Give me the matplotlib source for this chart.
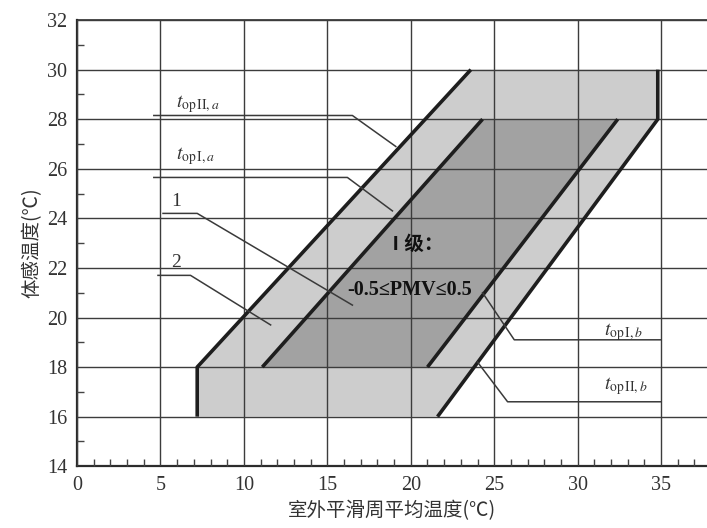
import matplotlib.pyplot as plt
from matplotlib.patches import Polygon
from matplotlib.ticker import MultipleLocator

plt.rcParams['mathtext.fontset'] = 'stix'

# comfort zone outlines (outdoor running mean temp, operative temp)
zone2_x = [7.2, 7.2, 23.6, 34.8, 34.8, 21.6]
zone2_y = [16, 18, 30, 30, 28, 16]
zone1_x = [11.1, 24.3, 32.4, 21.0]
zone1_y = [18, 28, 28, 18]

# leader lines for the labels
lead_op2a = ([4.6, 16.5, 19.1], [28.15, 28.15, 26.9])
lead_op1a = ([4.6, 16.2, 18.9], [25.65, 25.65, 24.3])
lead_1 = ([5.15, 7.2, 16.5], [24.2, 24.2, 20.5])
lead_2 = ([4.85, 6.8, 11.6], [21.7, 21.7, 19.7])
lead_op1b = ([24.3, 26.2, 35.0], [21.0, 19.1, 19.1])
lead_op2b = ([24.0, 25.8, 35.0], [18.2, 16.6, 16.6])

fig = plt.figure(figsize=(7.07, 5.28), dpi=100)
ax = fig.add_axes([0.109, 0.117, 0.891, 0.845])

ax.add_patch(Polygon(list(zip(zone2_x, zone2_y)), closed=True,
                     facecolor='#cdcdcd', edgecolor='none', zorder=1))
ax.add_patch(Polygon(list(zip(zone1_x, zone1_y)), closed=True,
                     facecolor='#a2a2a2', edgecolor='none', zorder=1.1))

thick = dict(color='#1e1e1e', lw=2.6, zorder=3, solid_capstyle='butt')
# outer boundary: left step and upper limit, right step and lower limit
ax.plot(zone2_x[0:3], zone2_y[0:3], **thick)
ax.plot(zone2_x[3:6], zone2_y[3:6], **thick)
# inner boundary diagonals
ax.plot(zone1_x[0:2], zone1_y[0:2], **thick)
ax.plot(zone1_x[2:4], zone1_y[2:4], **thick)

thin = dict(color='#3a3a3a', lw=1.1, zorder=3)
for xs, ys in [lead_op2a, lead_op1a, lead_1, lead_2, lead_op1b, lead_op2b]:
    ax.plot(xs, ys, **thin)

ax.set_xlim(0, 37.75)
ax.set_ylim(14, 32)
ax.xaxis.set_major_locator(MultipleLocator(5))
ax.xaxis.set_minor_locator(MultipleLocator(1))
ax.yaxis.set_major_locator(MultipleLocator(2))
ax.yaxis.set_minor_locator(MultipleLocator(1))
ax.grid(True, which='major', color='#3c3c3c', lw=1.0)
ax.set_axisbelow(False)
ax.tick_params(which='major', length=0, pad=7, labelsize=14.5)
ax.tick_params(which='minor', direction='in', length=5, width=1, color='#444444')
for lab in ax.get_xticklabels() + ax.get_yticklabels():
    lab.set_family('Liberation Serif')
    lab.set_color('#333333')

ax.spines['right'].set_visible(False)
for s in ['left', 'bottom']:
    ax.spines[s].set_linewidth(1.6)
    ax.spines[s].set_color('#2a2a2a')
ax.spines['top'].set_linewidth(1.2)
ax.spines['top'].set_color('#2a2a2a')

cjk = ['Noto Sans CJK SC', 'DejaVu Sans']
ax.set_xlabel('室外平滑周平均温度(℃)', family=cjk, fontsize=14,
              color='#333333', labelpad=4)
ax.set_ylabel('体感温度(℃)', family=cjk, fontsize=14,
              color='#333333', labelpad=3)

lab = dict(fontsize=14, color='#333333', zorder=4)
ax.text(5.9, 28.5, r'$t_{\mathrm{op\,II},a}$', **lab)
ax.text(5.9, 26.4, r'$t_{\mathrm{op\,I},a}$', **lab)
ax.text(31.6, 19.3, r'$t_{\mathrm{op\,I},b}$', **lab)
ax.text(31.6, 17.1, r'$t_{\mathrm{op\,II},b}$', **lab)
ax.text(5.95, 24.7, '1', family='Liberation Serif', fontsize=14,
        color='#333333', ha='center', va='center')
ax.text(5.95, 22.2, '2', family='Liberation Serif', fontsize=14,
        color='#333333', ha='center', va='center')

ax.text(20.25, 22.95, 'Ⅰ级：', family=cjk, fontsize=14, fontweight='bold',
        color='#111111', ha='center', va='center', zorder=4)
ax.text(19.9, 21.1, '-0.5≤PMV≤0.5', family=['Liberation Serif', 'DejaVu Serif'],
        fontsize=14.5, fontweight='bold', color='#111111',
        ha='center', va='center', zorder=4)

fig.savefig('out.png', dpi=100, facecolor='white')
